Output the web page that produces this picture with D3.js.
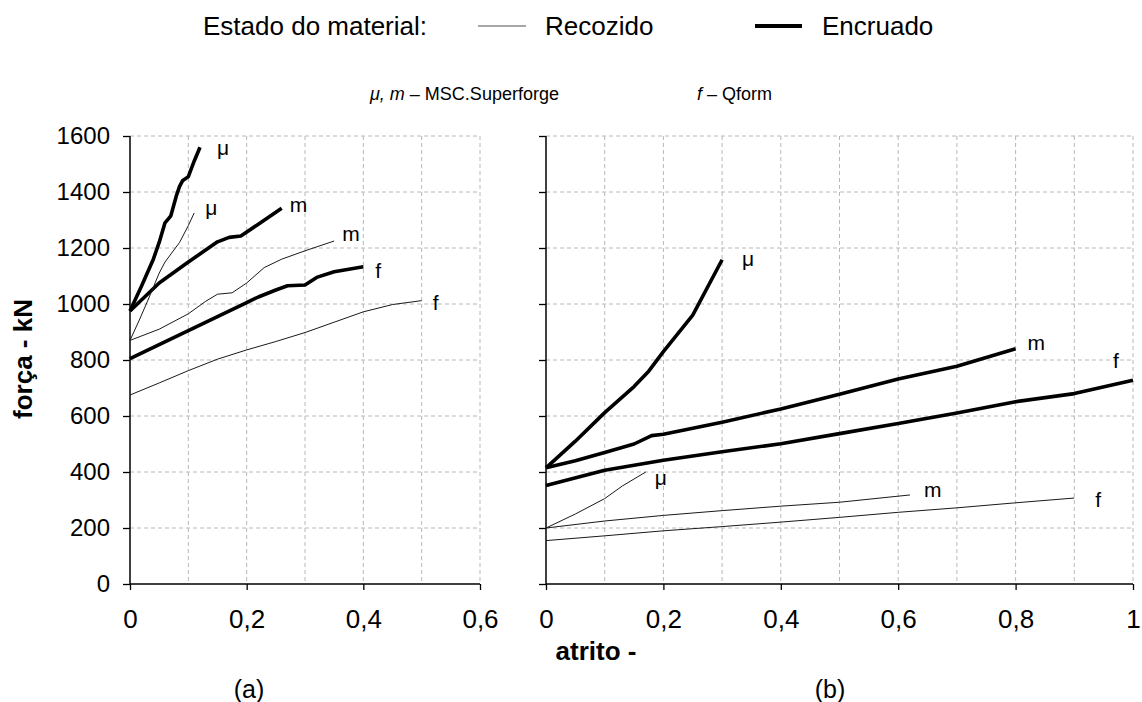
<!DOCTYPE html>
<html>
<head>
<meta charset="utf-8">
<script src="https://cdn.jsdelivr.net/npm/d3@7"></script>
<style>
  html, body { margin: 0; padding: 0; background: #fff; }
  svg { display: block; font-family: "Liberation Sans", Arial, sans-serif; }
</style>
</head>
<body>
<svg id="chart" width="1142" height="702"></svg>
<script>
// Forging force (kN) versus friction factor, two simulation panels.
const yTicks = [0, 200, 400, 600, 800, 1000, 1200, 1400, 1600];
const xTicksA = [0, 0.2, 0.4, 0.6];
const xTicksB = [0, 0.2, 0.4, 0.6, 0.8, 1];

// Panel (a) — Encruado (thick)
const aMuHardX = [0, 0.02, 0.04, 0.05, 0.06, 0.07, 0.08, 0.085, 0.09, 0.1, 0.11, 0.12];
const aMuHardY = [975, 1065, 1160, 1220, 1290, 1315, 1390, 1420, 1440, 1455, 1510, 1560];
const aMHardX = [0, 0.05, 0.1, 0.15, 0.17, 0.19, 0.22, 0.26];
const aMHardY = [975, 1075, 1150, 1222, 1238, 1243, 1285, 1342];
const aFHardX = [0, 0.05, 0.1, 0.15, 0.2, 0.22, 0.25, 0.27, 0.3, 0.32, 0.35, 0.4];
const aFHardY = [805, 855, 905, 955, 1005, 1025, 1050, 1065, 1068, 1095, 1115, 1133];
// Panel (a) — Recozido (thin)
const aMuSoftX = [0, 0.016, 0.03, 0.05, 0.06, 0.085, 0.1, 0.11];
const aMuSoftY = [870, 943, 1010, 1110, 1150, 1220, 1280, 1325];
const aMSoftX = [0, 0.05, 0.1, 0.13, 0.15, 0.175, 0.2, 0.23, 0.26, 0.3, 0.35];
const aMSoftY = [870, 910, 965, 1010, 1035, 1040, 1075, 1130, 1160, 1190, 1225];
const aFSoftX = [0, 0.05, 0.1, 0.15, 0.2, 0.25, 0.3, 0.35, 0.4, 0.45, 0.5];
const aFSoftY = [675, 718, 762, 803, 836, 866, 898, 935, 972, 998, 1012];

// Panel (b) — Encruado (thick)
const bMuHardX = [0, 0.05, 0.1, 0.15, 0.175, 0.2, 0.25, 0.3];
const bMuHardY = [415, 510, 612, 705, 760, 830, 960, 1158];
const bMHardX = [0, 0.05, 0.1, 0.15, 0.18, 0.2, 0.3, 0.4, 0.5, 0.6, 0.7, 0.8];
const bMHardY = [415, 440, 470, 500, 530, 535, 578, 625, 678, 732, 778, 840];
const bFHardX = [0, 0.1, 0.2, 0.3, 0.4, 0.5, 0.6, 0.7, 0.8, 0.9, 1.0];
const bFHardY = [352, 406, 442, 472, 501, 537, 573, 611, 651, 680, 728];
// Panel (b) — Recozido (thin)
const bMuSoftX = [0, 0.05, 0.1, 0.13, 0.17];
const bMuSoftY = [200, 250, 305, 350, 400];
const bMSoftX = [0, 0.1, 0.2, 0.3, 0.4, 0.5, 0.62];
const bMSoftY = [200, 225, 245, 262, 278, 292, 318];
const bFSoftX = [0, 0.1, 0.2, 0.3, 0.4, 0.5, 0.6, 0.7, 0.8, 0.9];
const bFSoftY = [155, 172, 190, 205, 221, 238, 256, 272, 290, 307];

const svg = d3.select("#chart");
const FONT = "'Liberation Sans', Arial, sans-serif";

const yTop = 136, yBottom = 584;

const panels = [
  {
    left: 130, right: 480, xMax: 0.6, ticks: xTicksA, showY: true, caption: "(a)", captionX: 249,
    series: [
      { x: aMuHardX, y: aMuHardY, hard: true, label: "μ", dx: 17, dy: 8 },
      { x: aMHardX, y: aMHardY, hard: true, label: "m", dx: 8, dy: 4 },
      { x: aFHardX, y: aFHardY, hard: true, label: "f", dx: 12, dy: 11 },
      { x: aMuSoftX, y: aMuSoftY, hard: false, label: "μ", dx: 11, dy: 2 },
      { x: aMSoftX, y: aMSoftY, hard: false, label: "m", dx: 8, dy: 0 },
      { x: aFSoftX, y: aFSoftY, hard: false, label: "f", dx: 11, dy: 9 }
    ]
  },
  {
    left: 546, right: 1133, xMax: 1, ticks: xTicksB, showY: false, caption: "(b)", captionX: 830,
    series: [
      { x: bMuHardX, y: bMuHardY, hard: true, label: "μ", dx: 20, dy: 6 },
      { x: bMHardX, y: bMHardY, hard: true, label: "m", dx: 12, dy: 1 },
      { x: bFHardX, y: bFHardY, hard: true, label: "f", dx: -20, dy: -12 },
      { x: bMuSoftX, y: bMuSoftY, hard: false, label: "μ", dx: 9, dy: 13 },
      { x: bMSoftX, y: bMSoftY, hard: false, label: "m", dx: 14, dy: 2 },
      { x: bFSoftX, y: bFSoftY, hard: false, label: "f", dx: 21, dy: 9 }
    ]
  }
];

const y = d3.scaleLinear().domain([0, 1600]).range([yBottom, yTop]);

panels.forEach(p => {
  const x = d3.scaleLinear().domain([0, p.xMax]).range([p.left, p.right]);
  const g = svg.append("g");

  // dashed grid
  const gridX = d3.range(1, Math.round(p.xMax * 10) + 1).map(i => i / 10);
  g.append("g").selectAll("line").data(gridX).join("line")
    .attr("x1", d => x(d)).attr("x2", d => x(d))
    .attr("y1", yTop).attr("y2", yBottom)
    .attr("stroke", "#b8b8b8").attr("stroke-width", 1).attr("stroke-dasharray", "4,3");
  g.append("g").selectAll("line").data(yTicks.slice(1)).join("line")
    .attr("x1", p.left).attr("x2", p.right)
    .attr("y1", d => y(d)).attr("y2", d => y(d))
    .attr("stroke", "#b8b8b8").attr("stroke-width", 1).attr("stroke-dasharray", "4,3");

  // axes
  const xAxis = d3.axisBottom(x).tickValues(p.ticks).tickSize(6).tickPadding(20)
    .tickFormat(d => String(d).replace(".", ","));
  const gx = g.append("g").attr("transform", `translate(0,${yBottom})`).call(xAxis);
  gx.select(".domain").attr("stroke", "#000").attr("stroke-width", 1.5).attr("d", `M${p.left},0H${p.right}`);
  gx.selectAll(".tick line").attr("stroke", "#000").attr("stroke-width", 1.3);
  gx.selectAll(".tick text").attr("font-size", 26).attr("fill", "#000").attr("font-family", FONT);

  const yAxis = d3.axisLeft(y).tickValues(yTicks).tickSize(7).tickPadding(13)
    .tickFormat(p.showY ? d => d : () => "");
  const gy = g.append("g").attr("transform", `translate(${p.left},0)`).call(yAxis);
  gy.select(".domain").attr("stroke", "#000").attr("stroke-width", 1.5).attr("d", `M0,${yTop}V${yBottom}`);
  gy.selectAll(".tick line").attr("stroke", "#000").attr("stroke-width", 1.3);
  gy.selectAll(".tick text").attr("font-size", 24).attr("fill", "#000").attr("font-family", FONT);

  // curves
  const line = d3.line().x(d => x(d[0])).y(d => y(d[1]));
  p.series.forEach(s => {
    const pts = s.x.map((v, i) => [v, s.y[i]]);
    g.append("path").datum(pts)
      .attr("d", line)
      .attr("fill", "none")
      .attr("stroke", s.hard ? "#000" : "#1a1a1a")
      .attr("stroke-width", s.hard ? 3.6 : 1)
      .attr("stroke-linejoin", "round");
    const last = pts[pts.length - 1];
    g.append("text")
      .attr("x", x(last[0]) + s.dx).attr("y", y(last[1]) + s.dy)
      .attr("font-size", 21).attr("fill", "#000")
      .text(s.label);
  });

  // panel caption
  svg.append("text").attr("x", p.captionX).attr("y", 698)
    .attr("text-anchor", "middle").attr("font-size", 25).text(p.caption);
});

// axis titles
svg.append("text")
  .attr("transform", "translate(32,359) rotate(-90)")
  .attr("text-anchor", "middle").attr("font-size", 26).attr("font-weight", "bold")
  .text("força - kN");
svg.append("text")
  .attr("x", 596).attr("y", 660).attr("text-anchor", "middle")
  .attr("font-size", 26).attr("font-weight", "bold").text("atrito -");

// legend
const legend = svg.append("g").attr("font-size", 26);
legend.append("text").attr("x", 203).attr("y", 35).text("Estado do material:");
legend.append("line").attr("x1", 478).attr("x2", 526).attr("y1", 26).attr("y2", 26)
  .attr("stroke", "#8a8a8a").attr("stroke-width", 1.6);
legend.append("text").attr("x", 545).attr("y", 35).text("Recozido");
legend.append("line").attr("x1", 755).attr("x2", 802).attr("y1", 26).attr("y2", 26)
  .attr("stroke", "#000").attr("stroke-width", 4);
legend.append("text").attr("x", 822).attr("y", 35).text("Encruado");

// source note
const note = svg.append("text").attr("y", 100).attr("font-size", 18);
note.append("tspan").attr("x", 370).attr("font-style", "italic").text("μ, m");
note.append("tspan").text(" – MSC.Superforge");
const note2 = svg.append("text").attr("y", 100).attr("font-size", 18);
note2.append("tspan").attr("x", 697).attr("font-style", "italic").text("f");
note2.append("tspan").text("  – Qform");
</script>
</body>
</html>
